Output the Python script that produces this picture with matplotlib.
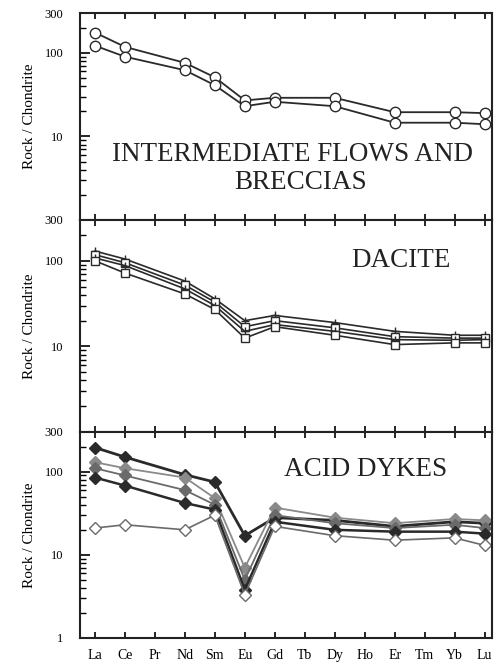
import matplotlib
matplotlib.use("Agg")
import matplotlib.pyplot as plt
from matplotlib.ticker import FixedLocator, NullFormatter, LogLocator

plt.rcParams['font.family'] = ['Liberation Serif', 'DejaVu Serif']

# REE axis
ree = ["La", "Ce", "Pr", "Nd", "Sm", "Eu", "Gd", "Tb", "Dy", "Ho", "Er", "Tm", "Yb", "Lu"]
measured = ["La", "Ce", "Nd", "Sm", "Eu", "Gd", "Dy", "Er", "Yb", "Lu"]

# intermediate flows and breccias (rock / chondrite)
flows_1 = [175, 118, 76, 51, 27, 29, 29, 19.5, 19.5, 19]
flows_2 = [122, 90, 62, 41, 23, 26, 23, 14.6, 14.6, 14]

# dacite
dacite_1 = [130, 105, 58, 36, 20, 23, 19, 15, 13.5, 13.5]
dacite_2 = [118, 95, 52, 33, 17, 20, 16.5, 13, 12.5, 12.5]
dacite_3 = [108, 88, 47, 30, 15, 18, 15, 12, 11.8, 12]
dacite_4 = [100, 72, 41, 27, 12.5, 17, 13.5, 10.5, 11, 11]

# acid dykes
dyke_1 = [195, 150, 92, 75, 17, 28, 26, 22, 25, 24]
dyke_2 = [130, 110, 85, 48, 7, 37, 28, 24, 27, 26]
dyke_3 = [110, 90, 60, 40, 5, 30, 24, 21, 23, 21]
dyke_4 = [85, 68, 42, 35, 3.8, 25, 20, 19, 19, 18]
dyke_5 = [21, 23, 20, 30, 3.3, 22, 17, 15, 16, 13]

xs = [ree.index(e) for e in measured]

fig = plt.figure(figsize=(4.96, 6.68), dpi=100)
left, right = 80 / 496, 492 / 496
edges = [13, 220, 432, 638]
axes = []
for i in range(3):
    top = 1 - edges[i] / 668
    bot = 1 - edges[i + 1] / 668
    ax = fig.add_axes([left, bot, right - left, top - bot])
    axes.append(ax)

dark = "#2a2a2a"
gray = "#6a6a6a"
txt = "#222222"

ax = axes[0]
for s in [flows_1, flows_2]:
    ax.plot(xs, s, color=dark, lw=1.3, marker="o", ms=7.5, mfc="white",
            mec=dark, mew=1.0)
ax.text(0.515, 0.315, "INTERMEDIATE FLOWS AND", transform=ax.transAxes,
        ha="center", va="center", fontsize=19.5, color=txt)
ax.text(0.536, 0.18, "BRECCIAS", transform=ax.transAxes,
        ha="center", va="center", fontsize=19.5, color=txt)

ax = axes[1]
marks = ["+", "s", "+", "s"]
for s, m in zip([dacite_1, dacite_2, dacite_3, dacite_4], marks):
    ax.plot(xs, s, color=dark, lw=1.2, marker=m, ms=6, mfc="white",
            mec=dark, mew=1.0)
ax.text(0.779, 0.81, "DACITE", transform=ax.transAxes,
        ha="center", va="center", fontsize=19.5, color=txt)

ax = axes[2]
styles = [(dyke_1, dark, 2.0, "D", dark),
          (dyke_2, "#8a8a8a", 1.3, "D", "#8a8a8a"),
          (dyke_3, gray, 1.3, "D", gray),
          (dyke_4, dark, 1.8, "D", dark),
          (dyke_5, gray, 1.2, "D", "white")]
for s, c, lw, m, fc in styles:
    ax.plot(xs, s, color=c, lw=lw, marker=m, ms=6, mfc=fc, mec=c, mew=1.0)
ax.text(0.694, 0.816, "ACID DYKES", transform=ax.transAxes,
        ha="center", va="center", fontsize=19.5, color=txt)

for i, ax in enumerate(axes):
    ax.set_yscale("log")
    ax.set_ylim(1, 300)
    ax.set_xlim(-0.5, 13.25)
    ax.set_xticks(range(len(ree)))
    if i == 2:
        ax.set_xticklabels(ree, fontsize=10)
        ax.yaxis.set_major_locator(FixedLocator([1, 10, 100, 300]))
        ax.set_yticklabels(["1", "10", "100", "300"], fontsize=9)
    else:
        ax.set_xticklabels([])
        ax.yaxis.set_major_locator(FixedLocator([10, 100, 300]))
        ax.set_yticklabels(["10", "100", "300"], fontsize=9)
    ax.yaxis.set_minor_locator(LogLocator(base=10, subs=range(2, 10)))
    ax.yaxis.set_minor_formatter(NullFormatter())
    ax.tick_params(axis="x", direction="in", top=True, bottom=True,
                   length=4, width=1.2, pad=8)
    ax.tick_params(axis="y", which="major", direction="in", left=True,
                   right=False, length=7, width=1.2, pad=12)
    ax.tick_params(axis="y", which="minor", direction="in", left=True,
                   right=False, length=4, width=1.0)
    for sp in ax.spines.values():
        sp.set_linewidth(1.5)
        sp.set_color(txt)
    ax.set_ylabel("Rock / Chondrite", fontsize=11, labelpad=6)

fig.savefig("out.png", dpi=100)
